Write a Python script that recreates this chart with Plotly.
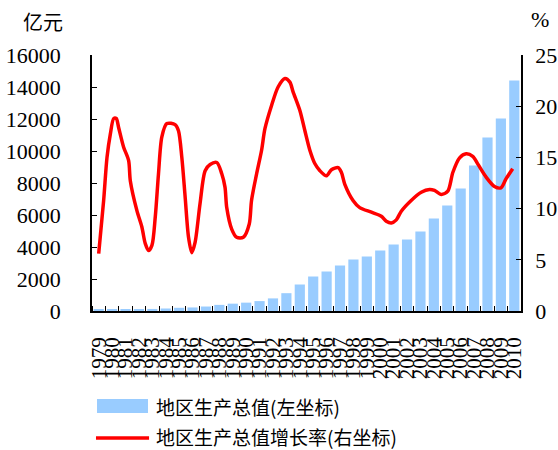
import plotly.graph_objects as go

years = list(range(1979, 2011))
year_labels = [str(y) for y in years]

# 地区生产总值 (亿元), left axis
gdp = [75, 90, 105, 118, 128, 157, 200, 222, 280, 383, 459, 522,
       619, 788, 1114, 1656, 2156, 2469, 2844, 3219, 3406, 3781, 4156, 4469,
       4969, 5781, 6594, 7656, 9094, 10844, 12031, 14406]

# 增长率 (%), right axis (position in years)
growth_pos = [1979.00, 1979.37, 1979.62, 1979.87, 1980.12, 1980.31, 1980.49, 1980.86,
              1981.23, 1981.36, 1981.85, 1982.22, 1982.47, 1982.72, 1982.97, 1983.22,
              1983.46, 1983.71, 1984.08, 1984.70, 1984.95, 1985.20, 1985.45, 1985.70,
              1985.94, 1986.19, 1986.56, 1986.94, 1987.31, 1987.81, 1988.18, 1988.42,
              1988.55, 1988.92, 1989.29, 1989.79, 1990.23, 1990.40, 1990.78, 1991.15,
              1991.40, 1991.90, 1992.39, 1992.89, 1993.26, 1993.50, 1994.00, 1994.38,
              1994.75, 1995.12, 1995.50, 1995.99, 1996.36, 1996.86, 1997.10, 1997.35,
              1997.97, 1998.47, 1999.34, 2000.08, 2000.45, 2000.83, 2001.20, 2001.57,
              2002.31, 2003.06, 2003.68, 2004.05, 2004.55, 2005.04, 2005.42, 2005.92,
              2006.41, 2006.90, 2007.27, 2007.90, 2008.52, 2009.00, 2009.38, 2009.88]
growth = [5.6, 10.8, 15.0, 17.3, 18.8, 18.8, 17.9, 16.0,
          14.7, 12.7, 9.8, 8.2, 6.6, 5.9, 6.4, 9.2,
          13.4, 17.0, 18.3, 18.2, 17.6, 15.0, 11.1, 7.2,
          5.7, 6.7, 10.5, 13.7, 14.3, 14.5, 13.4, 12.1,
          10.1, 8.0, 7.2, 7.2, 8.5, 10.8, 13.4, 15.7,
          17.8, 20.1, 21.9, 22.7, 22.35, 21.4, 19.6, 17.6,
          15.7, 14.4, 13.7, 13.2, 13.8, 14.0, 13.55, 12.4,
          10.8, 10.1, 9.65, 9.26, 8.77, 8.6, 8.9, 9.75,
          10.8, 11.6, 11.87, 11.77, 11.38, 11.7, 13.55, 14.96,
          15.35, 15.1, 14.37, 13.07, 12.16, 12.03, 12.9, 13.9]

left_ticks = [0, 2000, 4000, 6000, 8000, 10000, 12000, 14000, 16000]
left_tick_labels = [str(v) for v in left_ticks]
right_ticks = [0, 5, 10, 15, 20, 25]
right_tick_labels = [str(v) for v in right_ticks]

FONT_NUM = "Times New Roman"
FONT_CJK = "Noto Sans CJK SC"
BAR_COLOR = "#99CCFF"
LINE_COLOR = "#FF0000"

fig = go.Figure()
fig.add_trace(go.Bar(x=years, y=gdp, marker=dict(color=BAR_COLOR, line=dict(width=0)),
                     width=0.76, name="地区生产总值(左坐标)", showlegend=False))
fig.add_trace(go.Scatter(x=growth_pos, y=growth, mode="lines", yaxis="y2",
                         line=dict(color=LINE_COLOR, width=3.5, shape="spline", smoothing=0.8),
                         name="地区生产总值增长率(右坐标)", showlegend=False))

fig.update_layout(
    template="none",
    width=558, height=450, autosize=False,
    margin=dict(l=92, r=37, t=55, b=139),
    paper_bgcolor="white", plot_bgcolor="white",
    font=dict(family=FONT_NUM, size=20, color="#000000"),
    xaxis=dict(range=[1978.5, 2010.5], tickvals=years, ticktext=year_labels,
               tickangle=-90, ticks="", showgrid=False, zeroline=False, automargin=False,
               showline=True, linecolor="#000000", linewidth=1.5,
               tickfont=dict(family=FONT_NUM, size=21), ticklabelstandoff=16,
               minor=dict(tick0=1978.5, dtick=1, ticks="inside", ticklen=5,
                          tickcolor="#000000", showgrid=False)),
    yaxis=dict(range=[0, 16000], tickvals=left_ticks, ticktext=left_tick_labels,
               ticks="inside", ticklen=5, automargin=False,
               tickcolor="#000000", showgrid=False, zeroline=False,
               showline=True, linecolor="#000000", linewidth=1.5,
               tickfont=dict(family=FONT_NUM, size=22), ticklabelstandoff=25),
    yaxis2=dict(range=[0, 25], tickvals=right_ticks, ticktext=right_tick_labels,
                overlaying="y", side="right", automargin=False,
                ticks="inside", ticklen=5, tickcolor="#000000", showgrid=False,
                zeroline=False, showline=True, linecolor="#000000", linewidth=1.5,
                tickfont=dict(family=FONT_NUM, size=22), ticklabelstandoff=8),
)

# axis unit titles
fig.add_annotation(text="亿元", x=-0.114, y=1.13, xref="paper", yref="paper",
                   xanchor="center", yanchor="middle",
                   showarrow=False, font=dict(family=FONT_CJK, size=20))
fig.add_annotation(text="%", x=1.044, y=1.137, xref="paper", yref="paper",
                   xanchor="center", yanchor="middle",
                   showarrow=False, font=dict(family=FONT_NUM, size=22))

# legend (drawn manually to match swatch sizes)
fig.add_shape(type="rect", xref="paper", yref="paper", x0=0.0117, x1=0.1305,
              y0=-0.398, y1=-0.344, fillcolor=BAR_COLOR, line=dict(width=0))
fig.add_annotation(text="地区生产总值(左坐标)", x=0.147, y=-0.373, xref="paper", yref="paper",
                   xanchor="left", yanchor="middle", borderpad=0,
                   showarrow=False, font=dict(family=FONT_CJK, size=19))
fig.add_shape(type="line", xref="paper", yref="paper", x0=0.0093, x1=0.133,
              y0=-0.496, y1=-0.496, line=dict(color=LINE_COLOR, width=3.5))
fig.add_annotation(text="地区生产总值增长率(右坐标)", x=0.147, y=-0.492, xref="paper", yref="paper",
                   xanchor="left", yanchor="middle", borderpad=0,
                   showarrow=False, font=dict(family=FONT_CJK, size=19))

fig.write_html("out.html", config={"displayModeBar": False},
               post_script="document.body.style.margin='0px';")
